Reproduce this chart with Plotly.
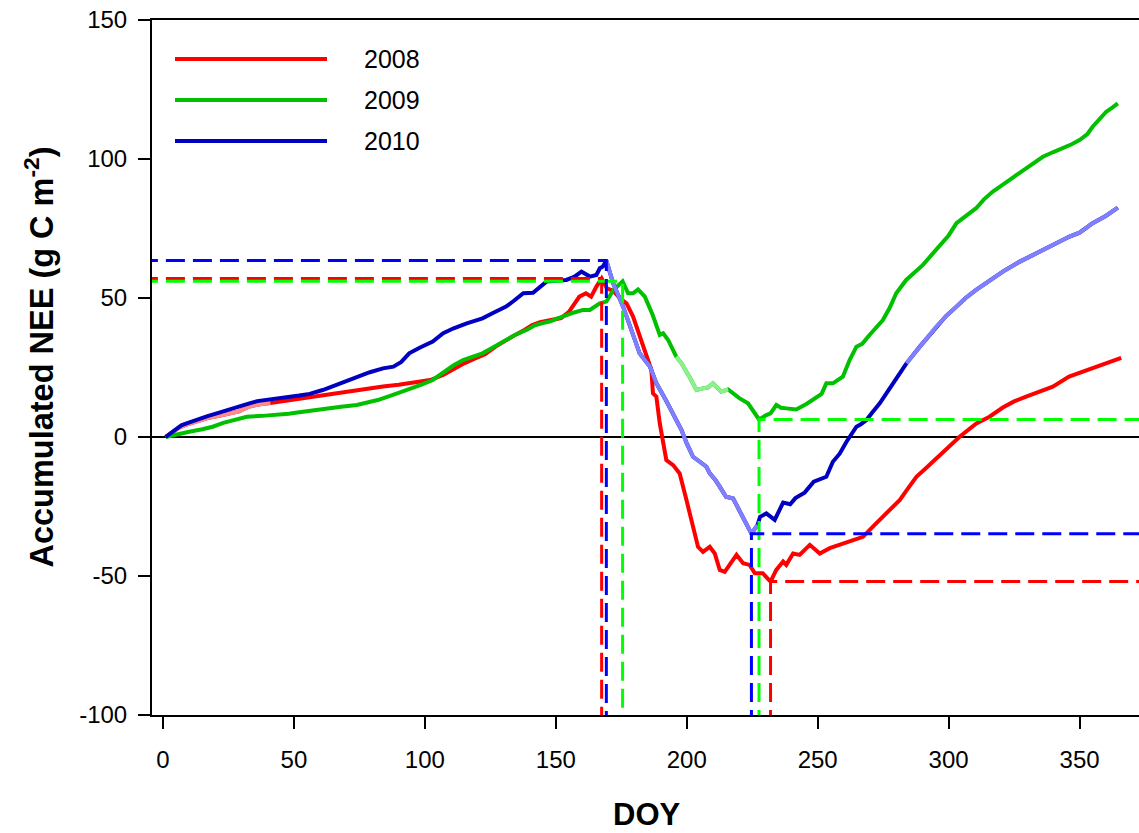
import plotly.graph_objects as go

# ---- accumulated NEE (g C m-2) by day of year ----
doy_2008 = [1, 3, 6, 9, 13, 17, 21, 25, 29, 33, 37, 41, 46, 52, 58, 65, 71, 78, 84, 90,
            96, 102, 107, 111, 115, 119, 123, 127, 131, 135, 138, 141, 144, 148, 152, 155,
            157, 159, 161.5, 163.5, 165.5, 167.5, 169.5, 172, 175, 177, 179.5, 182, 184.6,
            186.5, 187.1, 188.4, 189.7, 191, 192.2, 194.8, 197.3, 199.9, 202.4, 204.3,
            206.2, 208.8, 210.7, 212.6, 214.5, 216.4, 219, 221.5, 224, 226, 229, 232,
            234.2, 236.8, 238, 240.6, 243.1, 247, 250.8, 254.6, 258, 262, 267.3, 271, 274,
            277.5, 281.3, 284.5, 287.7, 291, 294, 299, 304.2, 310.6, 315.6, 320.7, 325,
            329.6, 335, 339.8, 346, 352, 357.6, 362, 365.9]
nee_2008 = [0, 1.5, 3.3, 4.5, 5.8, 6.8, 7.5, 8.2, 9.2, 11.0, 11.8, 12.2, 12.9, 13.7, 14.5,
            15.5, 16.6, 17.5, 18.2, 18.8, 19.6, 20.5, 22.3, 24.5, 26.5, 28.2, 29.8, 32.5,
            34.9, 37.0, 38.5, 40.3, 41.3, 42.1, 42.8, 45.0, 48.0, 50.5, 51.7, 50.5, 54.1,
            57.0, 53.5, 52.5, 49.5, 48.1, 43.3, 36.1, 28.9, 24.1, 15.7, 14.5, 4.9, -2.3,
            -8.3, -10.1, -13.1, -22.7, -32.3, -39.5, -41.3, -39.5, -41.9, -47.8, -48.5,
            -46.0, -42.4, -45.4, -46.0, -49.0, -49.0, -52.0, -47.8, -44.8, -46.0, -41.9,
            -42.4, -38.8, -41.9, -40.0, -39.0, -37.7, -35.9, -32.3, -29.5, -26.3, -22.7,
            -18.5, -14.3, -11.5, -8.9, -4.1, 0.1, 4.9, 7.3, 10.6, 12.8, 14.5, 16.3, 18.1,
            21.7, 23.7, 25.9, 27.3, 28.5]

doy_2009 = [1, 5, 10, 15, 19, 23, 27, 32, 38, 43, 48, 52, 57, 62.5, 68, 74, 78, 82, 87, 91,
            95.5, 99, 103, 106, 108, 111, 114.6, 118, 122, 126, 130, 134, 138.8, 142, 145,
            148, 151, 154, 157, 160.4, 163, 166.8, 169.3, 172, 175.5, 177.6, 179.5, 181.4,
            184, 187, 189.7, 191, 192.9, 196, 198, 201, 203.7, 206.2, 208, 210, 211.5,
            213.2, 215.8, 218, 220.2, 223.4, 225.3, 227.6, 230.4, 232, 234.2, 236, 238,
            241.8, 245.7, 249.5, 251.5, 253.3, 255.8, 259.6, 262.2, 264.8, 267, 269.8,
            274.9, 277.5, 280, 283.8, 287, 290.2, 293.5, 296.6, 300, 303, 306.5, 310.5,
            313.5, 316.9, 321, 325.8, 330.5, 336, 340, 343.6, 347, 350, 353, 355, 358,
            360.2, 362.5, 364.6]
nee_2009 = [0, 1.0, 1.9, 2.8, 3.7, 5.1, 6.2, 7.3, 7.6, 7.9, 8.4, 8.9, 9.6, 10.3, 10.9, 11.5,
            12.3, 13.3, 14.9, 16.2, 17.5, 18.9, 20.5, 22.5, 23.9, 25.8, 27.7, 28.8, 30.1,
            32.2, 34.3, 36.5, 38.5, 40.2, 41.0, 41.6, 42.8, 43.9, 44.8, 45.7, 45.7, 48.1,
            48.7, 52.9, 56.0, 51.7, 51.7, 53.1, 50.5, 43.9, 36.7, 37.3, 34.9, 28.9, 26.5,
            21.7, 16.9, 17.5, 17.8, 19.3, 18.0, 16.3, 17.1, 15.5, 13.9, 12.1, 9.7, 6.3,
            7.9, 8.5, 11.5, 10.5, 10.3, 9.9, 11.9, 14.5, 15.5, 19.3, 19.3, 21.7, 27.7,
            32.5, 33.5, 36.7, 42.1, 46.5, 51.7, 56.5, 59.3, 61.9, 65.5, 69.1, 72.5, 76.9,
            79.5, 82.3, 85.5, 88.3, 91.0, 94.2, 97.3, 100.8, 102.5, 103.8, 105.3, 106.8,
            109.0, 111.6, 114.5, 117.0, 118.5, 120.0]

doy_2010 = [1, 4, 7, 9, 13, 17, 20.5, 24, 28, 33, 36, 39.6, 44, 48, 52, 56, 61, 66, 70, 74,
            79, 84, 88, 91, 94, 98, 103, 107, 111, 116, 122, 126, 131, 134, 137.6, 141.3,
            144, 146.4, 150, 154, 157, 159.8, 163, 165.5, 166.8, 168, 169.3, 171.9, 175.7,
            179.5, 182, 186, 188.4, 192, 196, 198, 200, 202.4, 205, 207.5, 208.8, 211, 213,
            215, 217.7, 220, 222.8, 224.7, 227, 228, 230.4, 233.6, 236.8, 239.5, 241.5,
            245, 248.5, 253.3, 255.8, 258.4, 261, 264.8, 266.5, 268.6, 271, 273.7, 278.8,
            283.9, 289, 295.3, 299, 303, 306.5, 310.5, 315, 320.7, 327, 333.4, 340, 346.2,
            350, 355, 360, 364.6]
nee_2010 = [0, 2.3, 4.2, 4.9, 6.3, 7.5, 8.5, 9.6, 10.6, 12.1, 12.9, 13.3, 13.8, 14.4, 14.9,
            15.5, 16.9, 18.7, 20.2, 21.7, 23.3, 24.7, 25.3, 27.0, 30.1, 32.1, 34.3, 37.3,
            39.1, 40.9, 42.7, 44.6, 46.9, 49.0, 51.7, 51.9, 54.0, 55.9, 56.2, 56.5, 57.6,
            59.5, 57.7, 58.3, 60.7, 61.3, 63.5, 55.3, 46.9, 37.3, 30.1, 25.3, 19.3, 13.3,
            6.1, 2.5, -2.3, -7.1, -8.9, -10.7, -13.1, -15.5, -18.5, -21.5, -22.1, -26.3,
            -31.1, -34.8, -31.7, -28.7, -27.5, -29.8, -23.6, -24.2, -22.0, -20.0, -16.1,
            -14.3, -8.9, -6.0, -1.7, 3.7, 4.6, 6.1, 9.0, 12.1, 19.3, 26.5, 32.5, 39.7,
            43.5, 46.9, 50.0, 52.9, 56.0, 59.5, 63.0, 66.1, 69.3, 72.1, 73.5, 76.9, 79.5,
            82.5]

# periods of gap-filled data (drawn in a lighter tint)
gapfill_2008 = [(1, 41)]
gapfill_2009 = [(196, 216)]
gapfill_2010 = [(169.3, 227), (283.9, 366)]

years = ["2008", "2009", "2010"]
series = {
    "2008": (doy_2008, nee_2008, gapfill_2008),
    "2009": (doy_2009, nee_2009, gapfill_2009),
    "2010": (doy_2010, nee_2010, gapfill_2010),
}

# window (DOY) in which the spring/summer carbon-source maximum is sought
PEAK_WINDOW_END = 200

y_ticks = [-100, -50, 0, 50, 100, 150]
y_tick_text = ["-100", "-50", "0", "50", "100", "150"]
x_ticks = [0, 50, 100, 150, 200, 250, 300, 350]

solid_color = {"2008": "#FF0000", "2009": "#00C000", "2010": "#0000C0"}
light_color = {"2008": "#FF8C8C", "2009": "#8CF08C", "2010": "#8080FF"}
dash_color = {"2008": "#FF0000", "2009": "#00FF00", "2010": "#0000FF"}

X_MIN, X_MAX = -4.2, 372.7
Y_MIN, Y_MAX = -100, 150

fig = go.Figure()

# accumulated NEE curves
for yr in years:
    d, v, gaps = series[yr]
    fig.add_trace(go.Scatter(x=d, y=v, mode="lines", showlegend=False,
                             line=dict(color=solid_color[yr], width=4)))
    for lo, hi in gaps:
        seg = [(a, b) for a, b in zip(d, v) if lo <= a <= hi]
        fig.add_trace(go.Scatter(x=[p[0] for p in seg], y=[p[1] for p in seg],
                                 mode="lines", showlegend=False,
                                 line=dict(color=light_color[yr], width=4)))

# dashed guides: seasonal maximum and the following minimum
for yr in years:
    d, v, _ = series[yr]
    early = [i for i in range(len(d)) if d[i] <= PEAK_WINDOW_END]
    i_max = max(early, key=lambda i: v[i])
    i_min = min(range(i_max, len(v)), key=lambda i: v[i])
    d_max, v_max = d[i_max], v[i_max]
    d_min, v_min = d[i_min], v[i_min]
    dash = dict(color=dash_color[yr], width=3, dash="19px,8px")
    fig.add_trace(go.Scatter(x=[X_MIN - 5, d_max, d_max], y=[v_max, v_max, Y_MIN - 5],
                             mode="lines", showlegend=False, line=dash))
    fig.add_trace(go.Scatter(x=[d_min, d_min, X_MAX + 5], y=[Y_MIN - 5, v_min, v_min],
                             mode="lines", showlegend=False, line=dash))

# legend drawn as long line samples with labels
legend_y = [0.9439, 0.8849, 0.8259]
shapes = []
annotations = []
for yr, ly in zip(years, legend_y):
    shapes.append(dict(type="line", xref="paper", yref="paper", x0=0.0233, x1=0.1773,
                       y0=ly, y1=ly, line=dict(color=solid_color[yr], width=4)))
    annotations.append(dict(xref="paper", yref="paper", x=0.2128, y=ly, text=yr,
                            showarrow=False, xanchor="left", yanchor="middle",
                            font=dict(size=25, color="black")))

annotations.append(dict(xref="paper", yref="paper", x=0.5015, y=-0.1712, text="<b>DOY</b>",
                        showarrow=False, xanchor="center", yanchor="bottom",
                        font=dict(size=31, color="black")))
annotations.append(dict(xref="paper", yref="paper", x=-0.114, y=0.515,
                        text="<b>Accumulated NEE (g C m<sup>-2</sup>)</b>",
                        textangle=-90, showarrow=False, xanchor="center", yanchor="middle",
                        font=dict(size=32.5, color="black")))

fig.update_layout(
    width=1139, height=833,
    margin=dict(l=152, r=0, t=20, b=118, pad=0),
    paper_bgcolor="white", plot_bgcolor="white",
    font=dict(family="Liberation Sans, Arial, sans-serif", color="black"),
    shapes=shapes, annotations=annotations,
    xaxis=dict(range=[X_MIN, X_MAX], tickvals=x_ticks, ticks="outside", ticklen=12,
               tickwidth=2, tickcolor="black", showline=True, linecolor="black",
               linewidth=2, mirror=True, showgrid=False, zeroline=False,
               tickfont=dict(size=24), ticklabelstandoff=10),
    yaxis=dict(range=[Y_MIN, Y_MAX], tickvals=y_ticks, ticktext=y_tick_text,
               ticks="outside", ticklen=12,
               tickwidth=2, tickcolor="black", showline=True, linecolor="black",
               linewidth=2, mirror=False, showgrid=False, zeroline=True,
               zerolinecolor="black", zerolinewidth=1.5,
               tickfont=dict(size=24), ticklabelstandoff=6),
)

fig.write_html("out.html")
